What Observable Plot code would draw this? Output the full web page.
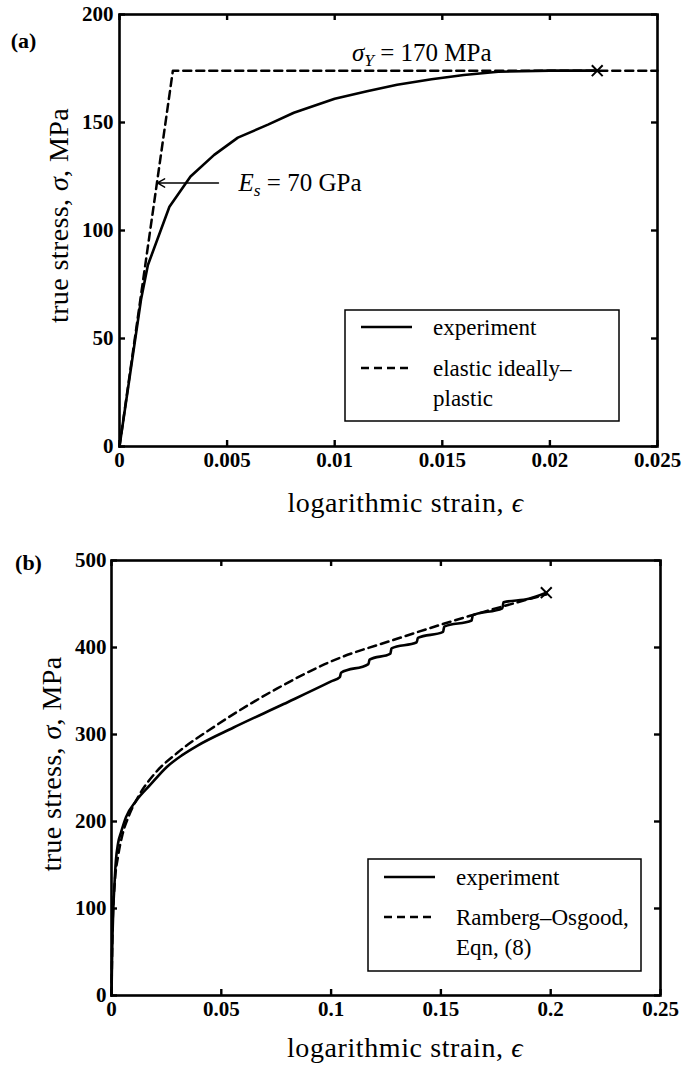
<!DOCTYPE html>
<html><head><meta charset="utf-8">
<script src="https://cdn.jsdelivr.net/npm/d3@7"></script>
<script src="https://cdn.jsdelivr.net/npm/@observablehq/plot@0.6"></script>
<style>
body{margin:0;background:#fff;width:683px;height:1066px;position:relative;overflow:hidden}
#a{position:absolute;left:0;top:0}
#b{position:absolute;left:0;top:520px}
</style></head><body><div id="a"></div><div id="b"></div>
<script>
// ---------- data: panel (a) ----------
const aExpStrain = [0, 0.001, 0.00132, 0.00232, 0.0033, 0.0044, 0.0055, 0.0069, 0.0081, 0.0100, 0.0115, 0.0129, 0.0145, 0.0160, 0.0176, 0.0200, 0.0222];
const aExpStress = [0, 68, 84, 111, 125, 135, 143, 149, 154.5, 161, 164.5, 167.5, 170, 172, 173.5, 174, 174];
const aModelStrain = [0, 0.00248, 0.025];
const aModelStress = [0, 174, 174];
const aEndStrain = [0.0222];
const aEndStress = [174];
const aXTicks = [0, 0.005, 0.01, 0.015, 0.02, 0.025];
const aYTicks = [0, 50, 100, 150, 200];
const aLegend = ["experiment", "elastic ideally–\nplastic"];
const aNoteText = ["σY = 170 MPa", "Es = 70 GPa"];
const aNoteStrain = [0.0108, 0.00553];
const aNoteStress = [182, 122];
const aArrowFrom = [0.0046, 122];
const aArrowTo = [0.00176, 122];

// ---------- data: panel (b) ----------
const bExpStrain = [0, 0.0003, 0.0008, 0.0014, 0.002, 0.003, 0.0044, 0.0066, 0.0113, 0.0176, 0.0253, 0.032, 0.039, 0.0556, 0.0784, 0.1, 0.104, 0.1045, 0.117, 0.1175, 0.127, 0.1275, 0.139, 0.1395, 0.151, 0.1515, 0.164, 0.1645, 0.178, 0.1785, 0.19, 0.198];
const bExpStress = [0, 50, 98, 130, 155, 175, 188, 205, 224, 242, 263, 276, 287, 308, 335, 361, 366, 371, 381, 386, 393, 399, 406, 411, 418, 424, 431, 437, 445, 452, 456, 463];
const bModelStrain = [0, 0.0005, 0.0015, 0.003, 0.005, 0.008, 0.0125, 0.02, 0.03, 0.048, 0.0755, 0.1, 0.13, 0.16, 0.185, 0.198];
const bModelStress = [0, 80, 130, 160, 185, 207, 230, 256, 279, 311, 353, 384, 410, 434, 452, 461];
const bEndStrain = [0.198];
const bEndStress = [463];
const bXTicks = [0, 0.05, 0.1, 0.15, 0.2, 0.25];
const bYTicks = [0, 100, 200, 300, 400, 500];
const bLegend = ["experiment", "Ramberg–Osgood,\nEqn, (8)"];

const xTitle = "logarithmic strain, ϵ";
const yTitle = "true stress, σ, MPa";

// ---------- helpers ----------
const zip = (xs, ys) => xs.map((x, i) => ({x, y: ys[i]}));
const SERIF = "'Liberation Serif', 'Times New Roman', serif";
const TITLE_SIZE = 28;

function panel(o) {
  const plotW = o.width - o.ml - o.mr;
  const plotH = o.height - o.mt - o.mb;
  const marks = [
    Plot.frame({strokeWidth: 2.6}),
    Plot.tickY(o.yTicks, {y: d => d, insetRight: plotW - 6, strokeWidth: 2.4}),
    Plot.tickY(o.yTicks, {y: d => d, insetLeft: plotW - 6, strokeWidth: 2.4}),
    Plot.tickX(o.xTicks, {x: d => d, insetTop: plotH - 6, strokeWidth: 2.4}),
    Plot.tickX(o.xTicks, {x: d => d, insetBottom: plotH - 6, strokeWidth: 2.4}),
    Plot.axisX({ticks: o.xTicks, tickSize: 0, tickPadding: o.xPad, label: null, tickFormat: d => String(d)}),
    Plot.axisY({ticks: o.yTicks, tickSize: 0, tickPadding: o.yPad, label: null, tickFormat: d => String(d)}),
    Plot.line(zip(o.modelX, o.modelY), {x: "x", y: "y", strokeWidth: 2.5, strokeDasharray: "8,5", curve: o.curve}),
    Plot.line(zip(o.expX, o.expY), {x: "x", y: "y", strokeWidth: 2.6, curve: o.curve}),
    Plot.dot(zip(o.endX, o.endY), {x: "x", y: "y", symbol: "times", r: 5, stroke: "#000", strokeWidth: 2}),
    Plot.text([xTitle], {frameAnchor: "bottom", dx: o.xtDx, dy: o.xtDy, textAnchor: "middle", lineAnchor: "middle", fontSize: TITLE_SIZE, fontWeight: "normal"}),
    Plot.text([yTitle], {frameAnchor: "left", rotate: -90, dx: o.ytDx, dy: o.ytDy, textAnchor: "middle", lineAnchor: "middle", fontSize: TITLE_SIZE, fontWeight: "normal"}),
    Plot.text([o.tag], {frameAnchor: "top-left", dx: o.tagDx, dy: o.tagDy, textAnchor: "middle", lineAnchor: "middle", fontSize: 22, fontWeight: "bold"}),
    ...(o.extra || [])
  ];
  return Plot.plot({
    width: o.width, height: o.height,
    marginTop: o.mt, marginBottom: o.mb, marginLeft: o.ml, marginRight: o.mr,
    x: {domain: o.xDomain}, y: {domain: o.yDomain},
    style: {fontFamily: SERIF, fontSize: "21px", fontWeight: "bold", color: "#000", background: "#fff", overflow: "visible"},
    marks
  });
}

function legend(svg, box, rows, rowY) {
  const g = d3.select(svg).append("g")
    .attr("font-family", SERIF).attr("font-size", 23).attr("font-weight", "normal")
    .attr("text-anchor", "start");
  g.append("rect").attr("x", box.x).attr("y", box.y).attr("width", box.w).attr("height", box.h)
    .attr("fill", "#fff").attr("stroke", "#000").attr("stroke-width", 1.5);
  rows.forEach((r, i) => {
    const y = rowY[i];
    g.append("line").attr("x1", box.x + 16).attr("x2", box.x + 67).attr("y1", y).attr("y2", y)
      .attr("stroke", "#000").attr("stroke-width", 2.6).attr("stroke-dasharray", i === 0 ? null : "8,5");
    r.split("\n").forEach((line, j) => {
      g.append("text").attr("x", box.x + 88).attr("y", y + j * 30).attr("dy", "0.35em")
        .attr("text-anchor", "start").text(line);
    });
  });
}

function richText(svg) {
  d3.select(svg).selectAll("text").each(function () {
    const t = this.textContent;
    const sel = d3.select(this);
    if (t === yTitle) {
      sel.text(null).attr("letter-spacing", "0.4px");
      sel.append("tspan").text("true stress, ");
      sel.append("tspan").attr("font-style", "italic").text("σ");
      sel.append("tspan").text(", MPa");
    } else if (t === xTitle) {
      sel.text(null).attr("letter-spacing", "0.6px");
      sel.append("tspan").text("logarithmic strain, ");
      sel.append("tspan").attr("font-style", "italic").text("ϵ");
    } else if (t === aNoteText[0]) {
      sel.text(null);
      sel.append("tspan").attr("font-style", "italic").text("σ");
      sel.append("tspan").attr("font-style", "italic").attr("font-size", "70%").attr("dy", 5).text("Y");
      sel.append("tspan").attr("dy", -5).text(" = 170 MPa");
    } else if (t === aNoteText[1]) {
      sel.text(null);
      sel.append("tspan").attr("font-style", "italic").text("E");
      sel.append("tspan").attr("font-style", "italic").attr("font-size", "70%").attr("dy", 5).text("s");
      sel.append("tspan").attr("dy", -5).text(" = 70 GPa");
    }
  });
}

// ---------- panel (a) ----------
const notes = aNoteText.map((t, i) => ({t, x: aNoteStrain[i], y: aNoteStress[i]}));
const svgA = panel({
  width: 683, height: 520, mt: 14, mb: 74, ml: 119, mr: 26,
  xDomain: [0, 0.025], yDomain: [0, 200], xTicks: aXTicks, yTicks: aYTicks,
  xPad: 6, yPad: 6,
  expX: aExpStrain, expY: aExpStress, modelX: aModelStrain, modelY: aModelStress,
  endX: aEndStrain, endY: aEndStress, curve: "linear",
  xtDx: 17, xtDy: 57, ytDx: -60, ytDy: -15,
  tag: "(a)", tagDx: -96, tagDy: 26,
  extra: [
    Plot.arrow([{x1: aArrowFrom[0], y1: aArrowFrom[1], x2: aArrowTo[0], y2: aArrowTo[1]}],
      {x1: "x1", y1: "y1", x2: "x2", y2: "y2", strokeWidth: 1.4, headLength: 9}),
    Plot.text(notes, {x: "x", y: "y", text: "t", textAnchor: "start", lineAnchor: "middle", fontSize: 25, fontWeight: "normal"})
  ]
});
richText(svgA);
legend(svgA, {x: 345, y: 310, w: 274, h: 111}, aLegend, [327, 368]);
document.getElementById("a").appendChild(svgA);

// ---------- panel (b) ----------
const svgB = panel({
  width: 683, height: 546, mt: 40, mb: 71, ml: 111, mr: 23,
  xDomain: [0, 0.25], yDomain: [0, 500], xTicks: bXTicks, yTicks: bYTicks,
  xPad: 6, yPad: 5,
  expX: bExpStrain, expY: bExpStress, modelX: bModelStrain, modelY: bModelStress,
  endX: bEndStrain, endY: bEndStress, curve: "monotone-x",
  xtDx: 19, xtDy: 53, ytDx: -59, ytDy: -14,
  tag: "(b)", tagDx: -83, tagDy: 2
});
richText(svgB);
legend(svgB, {x: 368, y: 339, w: 273, h: 112}, bLegend, [357, 397]);
document.getElementById("b").appendChild(svgB);
</script>
</body></html>
